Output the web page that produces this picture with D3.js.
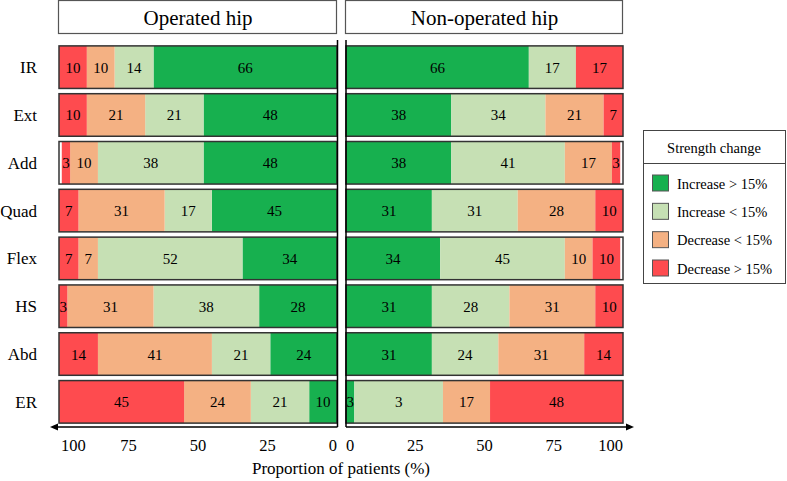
<!DOCTYPE html>
<html>
<head>
<meta charset="utf-8">
<script src="https://cdn.jsdelivr.net/npm/d3@7/dist/d3.min.js"></script>
</head>
<body style="margin:0;background:#fff">
<svg id="chart" width="787" height="481"></svg>
<script>
const categories = ["IR", "Ext", "Add", "Quad", "Flex", "HS", "Abd", "ER"];
const seriesNames = ["Increase > 15%", "Increase < 15%", "Decrease < 15%", "Decrease > 15%"];
const seriesColors = ["#17b04f", "#c6e0b4", "#f4b183", "#fe4b4f"];
const panelTitles = ["Operated hip", "Non-operated hip"];

// Operated hip, per category: [Inc>15, Inc<15, Dec<15, Dec>15]
const operatedIncHigh = [66, 48, 48, 45, 34, 28, 24, 10];
const operatedIncLow  = [14, 21, 38, 17, 52, 38, 21, 21];
const operatedDecLow  = [10, 21, 10, 31, 7, 31, 41, 24];
const operatedDecHigh = [10, 10, 3, 7, 7, 3, 14, 45];

// Non-operated hip
const nonopIncHigh = [66, 38, 38, 31, 34, 31, 31, 3];
const nonopIncLow  = [17, 34, 41, 31, 45, 28, 24, 32];
const nonopDecLow  = [0, 21, 17, 28, 10, 31, 31, 17];
const nonopDecHigh = [17, 7, 3, 10, 10, 10, 14, 48];
// printed labels (the figure prints "3" on the ER light-green segment)
const nonopIncLowLabels = ["17", "34", "41", "31", "45", "28", "24", "3"];

const tickValues = [0, 25, 50, 75, 100];
const xTitle = "Proportion of patients (%)";
const legendTitle = "Strength change";

const FONT = '"Liberation Serif", "Times New Roman", Times, serif';
const svg = d3.select("#chart").style("font-family", FONT);

const y = d3.scaleBand().domain(categories).range([43.5, 425.5]).paddingInner(0.11).paddingOuter(0.05);
const xL = d3.scaleLinear().domain([0, 100]).range([337, 59]);
const xR = d3.scaleLinear().domain([0, 100]).range([346, 623]);

function buildRows(a, b, c, d, labB) {
  return categories.map((cat, i) => {
    const vals = [a[i], b[i], c[i], d[i]];
    const labs = [String(a[i]), labB ? labB[i] : String(b[i]), String(c[i]), String(d[i])];
    let cum = 0;
    return { cat, segs: vals.map((v, k) => { const s = { k, v, lab: labs[k], x0: cum, x1: cum + v }; cum += v; return s; }), total: cum };
  });
}
const rowsL = buildRows(operatedIncHigh, operatedIncLow, operatedDecLow, operatedDecHigh);
const rowsR = buildRows(nonopIncHigh, nonopIncLow, nonopDecLow, nonopDecHigh, nonopIncLowLabels);

function drawPanel(rows, x, left) {
  const g = svg.append("g");
  const rowG = g.selectAll("g.row").data(rows).join("g").attr("class", "row")
    .attr("transform", d => `translate(0,${y(d.cat)})`);
  rowG.selectAll("rect.seg").data(d => d.segs.filter(s => s.v > 0)).join("rect")
    .attr("class", "seg")
    .attr("x", s => Math.min(x(s.x0), x(s.x1)))
    .attr("width", s => Math.abs(x(s.x1) - x(s.x0)))
    .attr("y", 0).attr("height", y.bandwidth())
    .attr("fill", s => seriesColors[s.k]);
  rowG.append("rect")
    .attr("x", Math.min(x(0), x(100))).attr("width", Math.abs(x(100) - x(0)))
    .attr("y", 0).attr("height", y.bandwidth())
    .attr("fill", "none").attr("stroke", "#333").attr("stroke-width", 1.5);
  rowG.selectAll("text.val").data(d => d.segs.filter(s => s.v > 0)).join("text")
    .attr("class", "val")
    .attr("x", s => (x(s.x0) + x(s.x1)) / 2)
    .attr("y", y.bandwidth() / 2 + 5.5)
    .attr("text-anchor", "middle").style("font-family", FONT).attr("font-size", 15)
    .text(s => s.lab);
  const x0 = x(0) + (left ? 0.5 : 0);
  g.append("line").attr("x1", x0).attr("x2", x0).attr("y1", 40).attr("y2", 427)
    .attr("stroke", "#000").attr("stroke-width", 1.5);
  const xEnd = left ? x(100) - 5 : x(100) + 7;
  g.append("line").attr("x1", x0).attr("x2", xEnd).attr("y1", 427).attr("y2", 427)
    .attr("stroke", "#000").attr("stroke-width", 1.3);
  const dir = left ? -1 : 1;
  g.append("path")
    .attr("d", `M${xEnd + dir * 4},427 L${xEnd - dir * 4},423.5 L${xEnd - dir * 4},430.5 Z`)
    .attr("fill", "#000");
  g.selectAll("text.tick").data(tickValues).join("text")
    .attr("class", "tick")
    .attr("x", v => x(v) + (left && v === 100 ? 2 : 0))
    .attr("y", 451)
    .style("font-family", FONT).attr("font-size", 16.5)
    .attr("text-anchor", v => {
      if (left) return v === 100 ? "start" : (v === 0 ? "end" : "middle");
      return v === 100 ? "end" : (v === 0 ? "start" : "middle");
    })
    .text(v => v);
}

drawPanel(rowsL, xL, true);
drawPanel(rowsR, xR, false);

[[xL, 0], [xR, 1]].forEach(([x, i]) => {
  const a = Math.min(x(0), x(100)), b = Math.max(x(0), x(100));
  svg.append("rect").attr("x", a - 0.5).attr("y", 0.5).attr("width", b - a).attr("height", 33)
    .attr("fill", "#fff").attr("stroke", "#555").attr("stroke-width", 1.2);
  svg.append("text").attr("x", (a + b) / 2).attr("y", 25).attr("text-anchor", "middle")
    .style("font-family", FONT).attr("font-size", 21).text(panelTitles[i]);
});

svg.selectAll("text.cat").data(categories).join("text")
  .attr("class", "cat")
  .attr("x", 37).attr("y", d => y(d) + y.bandwidth() / 2 + 6)
  .attr("text-anchor", "end").style("font-family", FONT).attr("font-size", 17)
  .text(d => d);

svg.append("text").attr("x", 341).attr("y", 474).attr("text-anchor", "middle")
  .style("font-family", FONT).attr("font-size", 17).text(xTitle);

const lg = svg.append("g");
lg.append("rect").attr("x", 643.5).attr("y", 130.5).attr("width", 142).attr("height", 153)
  .attr("fill", "#fff").attr("stroke", "#444").attr("stroke-width", 1);
lg.append("line").attr("x1", 643.5).attr("x2", 785.5).attr("y1", 163.5).attr("y2", 163.5)
  .attr("stroke", "#444").attr("stroke-width", 1);
lg.append("text").attr("x", 714).attr("y", 152.5).attr("text-anchor", "middle")
  .style("font-family", FONT).attr("font-size", 14.5).text(legendTitle);
const ly = d3.scalePoint().domain(seriesNames).range([183, 268]);
lg.selectAll("rect.key").data(seriesNames).join("rect").attr("class", "key")
  .attr("x", 652.5).attr("y", d => ly(d) - 8).attr("width", 16).attr("height", 16)
  .attr("fill", (d, i) => seriesColors[i]).attr("stroke", "#555").attr("stroke-width", 1);
lg.selectAll("text.key").data(seriesNames).join("text").attr("class", "key")
  .attr("x", 677).attr("y", d => ly(d) + 5.5).style("font-family", FONT).attr("font-size", 14.5)
  .text(d => d);
</script>
</body>
</html>
